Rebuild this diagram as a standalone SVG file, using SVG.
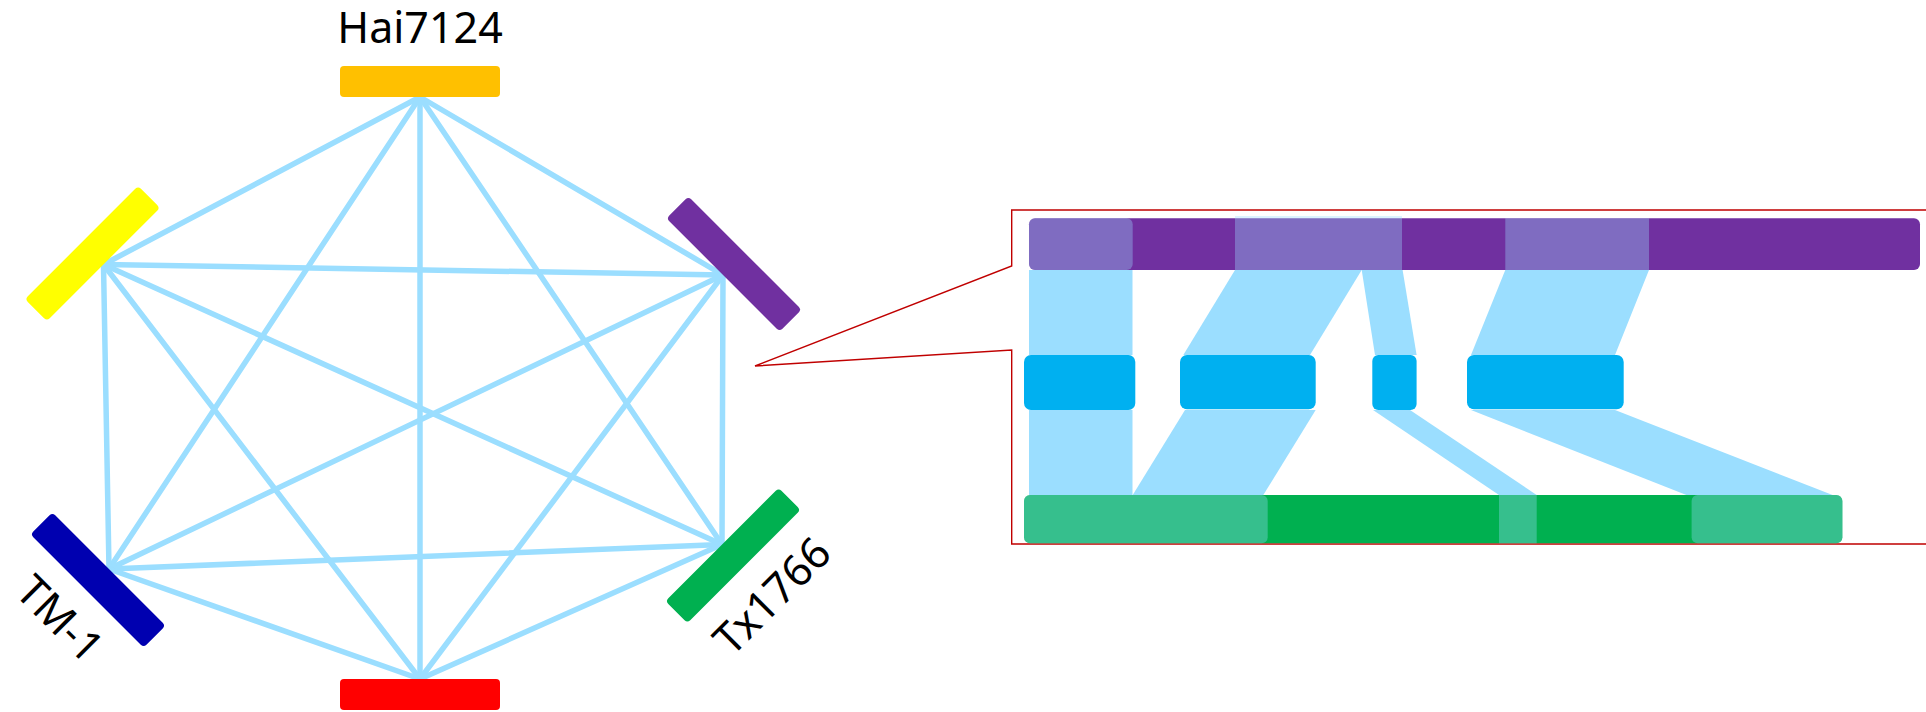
<svg xmlns="http://www.w3.org/2000/svg" width="1926" height="712" viewBox="0 0 1926 712">
  <style>
    .label { font-family: "Noto Sans", "Liberation Sans", sans-serif; font-size: 43px; fill: #000; }
    .edge { stroke: #9BDEFF; stroke-width: 5.5; stroke-linecap: round; fill: none; }
    .band { fill: #9BDEFF; }
    .tint { fill: #9BDEFF; fill-opacity: 0.35; }
    .block { fill: #00B0F0; }
    .callout { fill: none; stroke: #C00000; stroke-width: 1.4; }
  </style>
  <defs>
    <rect id="bar" x="-80" y="-15.5" width="160" height="31" rx="4"/>
  </defs>
  <rect width="1926" height="712" fill="#fff"/>

  <!-- connections between all six genomes -->
  <g id="connectors">
    <line class="edge" x1="420" y1="97" x2="103.5" y2="264.5"/>
    <line class="edge" x1="420" y1="97" x2="723" y2="275"/>
    <line class="edge" x1="420" y1="97" x2="109" y2="569"/>
    <line class="edge" x1="420" y1="97" x2="722" y2="544.5"/>
    <line class="edge" x1="420" y1="97" x2="420" y2="679"/>
    <line class="edge" x1="103.5" y1="264.5" x2="723" y2="275"/>
    <line class="edge" x1="103.5" y1="264.5" x2="109" y2="569"/>
    <line class="edge" x1="103.5" y1="264.5" x2="722" y2="544.5"/>
    <line class="edge" x1="103.5" y1="264.5" x2="420" y2="679"/>
    <line class="edge" x1="723" y1="275" x2="109" y2="569"/>
    <line class="edge" x1="723" y1="275" x2="722" y2="544.5"/>
    <line class="edge" x1="723" y1="275" x2="420" y2="679"/>
    <line class="edge" x1="109" y1="569" x2="722" y2="544.5"/>
    <line class="edge" x1="109" y1="569" x2="420" y2="679"/>
    <line class="edge" x1="722" y1="544.5" x2="420" y2="679"/>
  </g>

  <!-- genome bars -->
  <g id="node-hai7124">
    <use href="#bar" transform="translate(420,81.5)" fill="#FFC000"/>
    <text class="label" x="420" y="43" text-anchor="middle">Hai7124</text>
  </g>
  <g id="node-yellow">
    <use href="#bar" transform="translate(92.5,253.5) rotate(-45)" fill="#FFFF00"/>
  </g>
  <g id="node-purple">
    <use href="#bar" transform="translate(734,264) rotate(45)" fill="#7030A0"/>
  </g>
  <g id="node-tm1">
    <use href="#bar" transform="translate(98,580) rotate(45)" fill="#0000B0"/>
    <text class="label" transform="translate(60,619) rotate(45)" x="0" y="15" text-anchor="middle">TM-1</text>
  </g>
  <g id="node-tx1766">
    <use href="#bar" transform="translate(733,555.5) rotate(-45)" fill="#00B050"/>
    <text class="label" transform="translate(772,596) rotate(-45)" x="0" y="15" text-anchor="middle">Tx1766</text>
  </g>
  <g id="node-red">
    <use href="#bar" transform="translate(420,694.5)" fill="#FF0000"/>
  </g>

  <!-- enlarged view of the purple / green pair -->
  <path class="callout" d="M1926,210 H1011.7 V266 L755,366 L1011.7,350 V544 H1926"/>

  <g id="detail-bands">
    <rect class="band" x="1029" y="270" width="103.5" height="85"/>
    <rect class="band" x="1029" y="410" width="103.5" height="85"/>
    <polygon class="band" points="1235,270 1361.7,270 1310,355 1183.3,355"/>
    <polygon class="band" points="1185,410 1315.7,410 1263.3,495 1132.7,495"/>
    <polygon class="band" points="1361.7,270 1402.6,270 1416.6,355 1375,355"/>
    <polygon class="band" points="1373,410 1410,410 1536.7,495 1499,495"/>
    <polygon class="band" points="1505.3,270 1649,270 1615,355 1471,355"/>
    <polygon class="band" points="1471,410 1615,410 1832.6,495 1686.4,495"/>
  </g>

  <g id="detail-purple">
    <rect x="1029" y="218.3" width="891" height="51.7" rx="6" fill="#7030A0"/>
    <rect class="tint" x="1029" y="218.3" width="103.7" height="51.7" rx="6"/>
    <rect class="tint" x="1235" y="216" width="167" height="54"/>
    <rect class="tint" x="1505.3" y="218.3" width="143.7" height="51.7"/>
  </g>

  <g id="detail-blocks">
    <rect class="block" x="1024" y="355" width="111.3" height="55" rx="7"/>
    <rect class="block" x="1180" y="355" width="135.7" height="54.3" rx="7"/>
    <rect class="block" x="1372.3" y="355" width="44.3" height="55" rx="6"/>
    <rect class="block" x="1467" y="355" width="156.7" height="54.3" rx="7"/>
  </g>

  <g id="detail-green">
    <rect x="1024" y="495" width="818.4" height="48.3" rx="6" fill="#00B050"/>
    <rect class="tint" x="1024" y="495" width="243.7" height="48.3" rx="6"/>
    <rect class="tint" x="1499" y="495" width="37.7" height="48.3"/>
    <rect class="tint" x="1691.6" y="495" width="150.8" height="48.3" rx="6"/>
  </g>
</svg>
